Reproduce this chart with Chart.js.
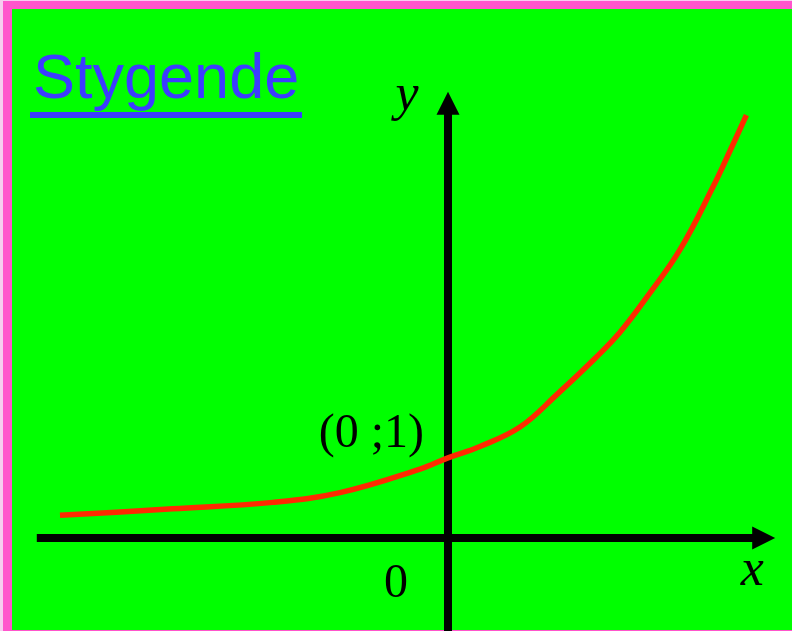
<!DOCTYPE html>
<html lang="da">
<head>
  <meta charset="UTF-8">
  <title>Stygende</title>
  <script src="https://cdn.jsdelivr.net/npm/chart.js"></script>
  <style>
    body { margin: 0; background: #fff; }
    #frame { position: absolute; left: 0; top: 0; width: 792px; height: 631px; background: #f6cdef; }
    #pink { position: absolute; left: 3px; top: 1px; width: 789px; height: 630px; background: #ff55cc; }
    #green { position: absolute; left: 12px; top: 9px; width: 780px; height: 621px; background: #00ff00; }
    #title {
      position: absolute; left: 30px; top: 40px;
      font-family: "Liberation Sans", Arial, sans-serif; font-size: 63px; color: #3c3cff;
      line-height: 72px; padding: 0 3px; border-bottom: 6px solid #3c3cff;
    }
    canvas { position: absolute; left: 0; top: 0; }
  </style>
</head>
<body>
  <div id="frame"><div id="pink"></div><div id="green"></div></div>
  <div id="title">Stygende</div>
  <canvas id="graph" width="792" height="631"></canvas>

  <script>
    // points (x, y in axis units)
    const curveX = [-4.85, -3.44, -2.19, -1.35, -0.35, 0, 0.4, 0.9, 1.36, 1.84, 2.15, 2.49, 2.9, 3.31, 3.53, 3.73];
    const curveY = [0.28, 0.36, 0.44, 0.56, 0.85, 0.99, 1.13, 1.37, 1.77, 2.22, 2.54, 2.98, 3.56, 4.33, 4.79, 5.22];

    // how far the drawn axes reach (arrow tips)
    const xAxisRange = [-5.14, 4.09];
    const yAxisRange = [-1.15, 5.51];

    const pointLabel = "(0 ;1)";
    const originLabel = "0";
    const xName = "x";
    const yName = "y";

    const points = curveX.map((x, i) => ({ x: x, y: curveY[i] }));

    // axes with arrows + text, drawn under the curve
    const axesPlugin = {
      id: "axes",
      beforeDatasetsDraw(chart) {
        const ctx = chart.ctx;
        const sx = chart.scales.x, sy = chart.scales.y;
        const x0 = sx.getPixelForValue(0), y0 = sy.getPixelForValue(0);
        const xl = sx.getPixelForValue(xAxisRange[0]), xr = sx.getPixelForValue(xAxisRange[1]);
        const yb = sy.getPixelForValue(yAxisRange[0]), yt = sy.getPixelForValue(yAxisRange[1]);
        const head = 23, half = 11.5;

        ctx.save();
        ctx.strokeStyle = "#000";
        ctx.fillStyle = "#000";
        ctx.lineWidth = 8;
        ctx.beginPath();
        ctx.moveTo(xl, y0); ctx.lineTo(xr - head + 1, y0);
        ctx.moveTo(x0, yb); ctx.lineTo(x0, yt + head - 1);
        ctx.stroke();

        ctx.beginPath();
        ctx.moveTo(xr, y0); ctx.lineTo(xr - head, y0 - half); ctx.lineTo(xr - head, y0 + half);
        ctx.closePath(); ctx.fill();
        ctx.beginPath();
        ctx.moveTo(x0, yt); ctx.lineTo(x0 - half, yt + head); ctx.lineTo(x0 + half, yt + head);
        ctx.closePath(); ctx.fill();

        const y1 = sy.getPixelForValue(1);
        ctx.font = '48px "Liberation Serif", "Times New Roman", serif';
        ctx.textBaseline = "alphabetic";
        ctx.textAlign = "right";
        ctx.fillText(pointLabel, x0 - 24, y1 - 10);
        ctx.fillText(originLabel, x0 - 40, y0 + 59);

        ctx.font = 'italic 52px "Liberation Serif", "Times New Roman", serif';
        ctx.textAlign = "center";
        ctx.fillText(xName, xr - 23, y0 + 47);
        ctx.fillText(yName, x0 - 41, yt + 18);
        ctx.restore();
      }
    };

    new Chart(document.getElementById("graph"), {
      type: "scatter",
      data: {
        datasets: [{
          data: points,
          showLine: true,
          borderColor: "#ff2a00",
          borderWidth: 5.5,
          pointRadius: 0,
          tension: 0.4,
          borderCapStyle: "butt"
        }]
      },
      options: {
        responsive: false,
        animation: false,
        layout: { padding: 0 },
        plugins: { legend: { display: false }, tooltip: { enabled: false } },
        scales: {
          x: { type: "linear", display: false, min: -5.6, max: 4.3 },
          y: { type: "linear", display: false, min: -1.148, max: 6.642 }
        }
      },
      plugins: [axesPlugin]
    });
  </script>
</body>
</html>
